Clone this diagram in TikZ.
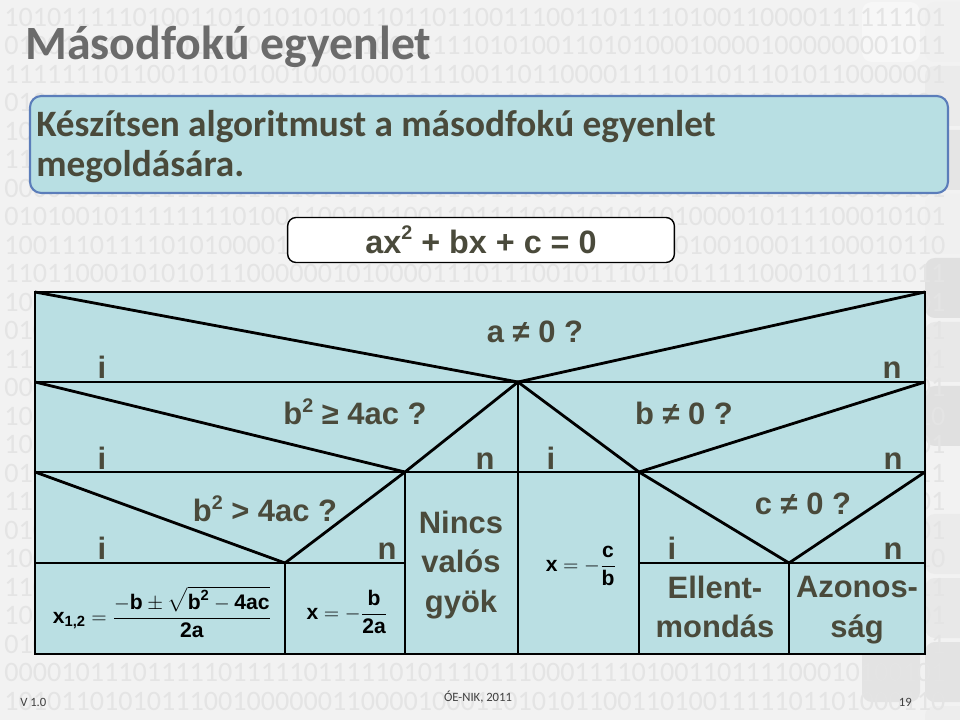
\documentclass[tikz,border=0pt]{standalone}
\usepackage{fontspec}
\usepackage{amsmath}
\setmainfont{Carlito}
\newfontfamily\arialfont{Liberation Sans}
\definecolor{slidebg}{HTML}{F2F2F2}
\definecolor{bincol}{HTML}{E4E4E4}
\definecolor{titlecol}{HTML}{6B6B6B}
\definecolor{taskfill}{HTML}{B8DFE3}
\definecolor{taskdraw}{HTML}{5B7DBA}
\definecolor{txtcol}{HTML}{4A4A3B}
\definecolor{nsfill}{HTML}{BADFE3}
\definecolor{footcol}{HTML}{404040}
\newcommand{\mtxt}[1]{\text{#1}}
\newcommand{\supTwo}{\raisebox{0.42em}{\fontsize{14}{14}\selectfont 2}}
\newcommand{\binA}{101011111010011010101010011011011001110011011110100110000111111101}
\newcommand{\binB}{010011010111010100110100110011111010100110101000100001000000001011}
\newcommand{\binC}{111111101100110101001000100011110011011000011110110111010110000001}
\newcommand{\binD}{010100101111111101001100101100110111101010101101000010111100010101}
\newcommand{\binE}{100111011110101000011010110010111001111101001100100100011100010110}
\newcommand{\binF}{110110001010101110000001010000111011100101110110111110001011111011}
\newcommand{\binG}{000010111011111011111011111010111011100011110100110111100010100101}
\newcommand{\binH}{101011010101110010000001100001000110101011001101001111101101000110}
\tikzset{
  ns/.style={line width=2pt, draw=black},
  nslab/.style={font=\arialfont\bfseries\fontsize{22}{28}\selectfont, text=txtcol, inner sep=0pt, align=center},
  formula/.style={font=\arialfont\bfseries\fontsize{15}{18}\selectfont, text=black, inner sep=0pt},
  bin/.style={font=\fontsize{20}{24}\selectfont, text=bincol, inner sep=0pt},
  tile/.style={rounded corners=7pt}
}
\begin{document}
\begin{tikzpicture}[x=0.025cm, y=-0.025cm]
        % Slide background
        \fill[slidebg] (0,0) rectangle (960,720);
        \useasboundingbox (0,0) rectangle (960,720);

        % Grey tiles on the right edge
        \foreach \y/\p in {2/6, 66/8, 130/10, 194/6, 258/12, 322/9, 386/12, 450/5, 514/8, 578/9, 642/11, 706/7}
            \fill[tile, black!\p] (925,\y) rectangle (990,\y+60);
        \foreach \y/\p in {2/3, 66/5, 194/5, 642/11}
            \fill[tile, black!\p] (862,\y) rectangle (920,\y+60);

        % Binary digits in the background
        \foreach \i/\s in {0/\binA, 1/\binB, 2/\binC, 3/\binD, 4/\binE, 5/\binF, 6/\binG, 7/\binD, 8/\binE, 9/\binF, 10/\binA, 11/\binB, 12/\binC, 13/\binG, 14/\binH, 15/\binA, 16/\binB, 17/\binC, 18/\binD, 19/\binE, 20/\binF, 21/\binA, 22/\binB, 23/\binG, 24/\binH}
            \node (bin\i) at (4,{17+28.5*\i}) [bin, anchor=west] {\s};

        % Title and task
        \node (title) at (25,60) [anchor=base west, inner sep=0pt, text=titlecol, font=\bfseries\fontsize{34}{40}\selectfont] {Másodfokú egyenlet};
        \draw[rounded corners=8pt, fill=taskfill, draw=taskdraw, line width=1.5pt] (30,96) rectangle (948,193);
        \node (task1) at (36,137) [anchor=base west, inner sep=0pt, text=txtcol, font=\bfseries\fontsize{26.5}{30}\selectfont] {Készítsen algoritmust a másodfokú egyenlet};
        \node (task2) at (36,177) [anchor=base west, inner sep=0pt, text=txtcol, font=\bfseries\fontsize{26.5}{30}\selectfont] {megoldására.};

        % Equation
        \node (eq) at (481,240) [draw, fill=white, rounded corners=6pt, line width=1pt, minimum width=275pt, minimum height=32pt, text=txtcol, font=\arialfont\bfseries\fontsize{23}{28}\selectfont] {ax\supTwo{} + bx + c = 0};

        % Structogram corners and apexes
        \coordinate (nw) at (35,292);  \coordinate (ne) at (925,292);
        \coordinate (w1) at (35,382);  \coordinate (e1) at (925,382);
        \coordinate (w2) at (35,472);  \coordinate (e2) at (925,472);
        \coordinate (w3) at (35,563);  \coordinate (e3) at (925,563);
        \coordinate (sw) at (35,654);  \coordinate (se) at (925,654);
        \coordinate (p1) at (518,382); \coordinate (p1s) at (518,654);
        \coordinate (p2) at (405,472); \coordinate (p2s) at (405,654); \coordinate (p2m) at (405,563);
        \coordinate (p3) at (639,472); \coordinate (p3s) at (639,654); \coordinate (p3m) at (639,563);
        \coordinate (p4) at (285,563); \coordinate (p4s) at (285,654);
        \coordinate (p5) at (789,563); \coordinate (p5s) at (789,654);

        % Structogram lines
        \draw[ns, fill=nsfill] (nw) rectangle (se);
        \draw[ns] (nw) -- (p1) -- (ne);
        \draw[ns] (w1) -- (e1);
        \draw[ns] (w1) -- (p2) -- (p1) -- (p3) -- (e1);
        \draw[ns] (w2) -- (e2);
        \draw[ns] (p1) -- (p1s);
        \draw[ns] (w2) -- (p4) -- (p2);
        \draw[ns] (p3) -- (p5) -- (e2);
        \draw[ns] (w3) -- (p2m);
        \draw[ns] (p3m) -- (e3);
        \draw[ns] (p2) -- (p2s);
        \draw[ns] (p3) -- (p3s);
        \draw[ns] (p4) -- (p4s);
        \draw[ns] (p5) -- (p5s);

        % Conditions
        \node (qa) at (535,343) [nslab, anchor=base] {a ≠ 0 ?};
        \node (qd) at (355,425) [nslab, anchor=base] {b\supTwo{} ≥ 4ac ?};
        \node (qb) at (684,425) [nslab, anchor=base] {b ≠ 0 ?};
        \node (qp) at (265,522) [nslab, anchor=base] {b\supTwo{} > 4ac ?};
        \node (qc) at (803,515) [nslab, anchor=base] {c ≠ 0 ?};

        % Branch labels
        \foreach \x/\y/\t [count=\k] in {102/379/i, 892/379/n, 102/470/i, 485/470/n, 551/470/i, 893/470/n, 102/560/i, 387/560/n, 672/560/i, 893/560/n}
            \node (br\k) at (\x,\y) [nslab, anchor=base] {\t};

        % Actions
        \node (x12) at (162,612) [formula] {$\mtxt{x}_{\mtxt{1,2}} = \dfrac{-\mtxt{b}\pm\sqrt{\mtxt{b}^{\mtxt{2}}-\mtxt{4ac}}}{\mtxt{2a}}$};
        \node (x0) at (347,612) [formula] {$\mtxt{x} = -\dfrac{\mtxt{b}}{\mtxt{2a}}$};
        \node (none) at (461,565) [nslab] {Nincs\\valós\\gyök};
        \node (xc) at (581,566) [formula] {$\mtxt{x} = -\dfrac{\mtxt{c}}{\mtxt{b}}$};
        \node (contra) at (715,607) [nslab] {Ellent-\\mondás};
        \node (ident) at (857,610) [nslab] {Azonos-\\ság};

        % Footer
        \node (ver) at (20,706) [anchor=base west, inner sep=0pt, text=footcol, font=\fontsize{9}{11}\selectfont] {V 1.0};
        \node (org) at (478,701) [anchor=base, inner sep=0pt, text=footcol, font=\fontsize{9}{11}\selectfont] {ÓE-NIK, 2011};
        \node (page) at (912,706) [anchor=base east, inner sep=0pt, text=footcol, font=\fontsize{9}{11}\selectfont] {19};
\end{tikzpicture}
\end{document}
